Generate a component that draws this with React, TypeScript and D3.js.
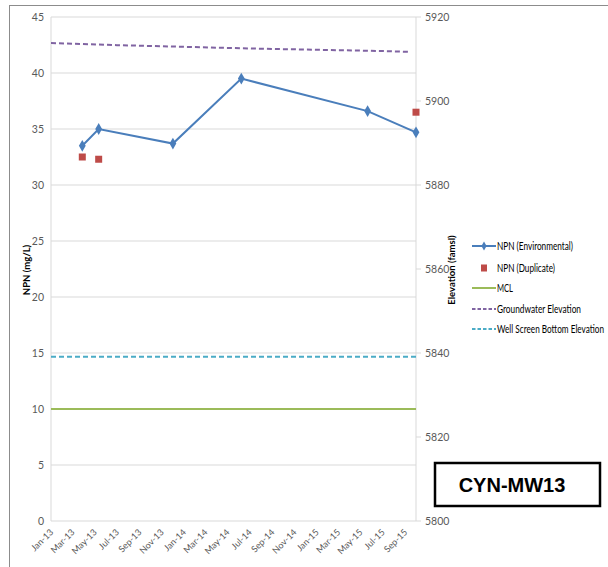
import React from 'react'
import * as d3 from 'd3'

// NPN (Environmental) samples, mg/L
const envDates = ['2013-03-28', '2013-05-12', '2013-12-02', '2014-06-08', '2015-05-21', '2015-10-01']
const envValues = [33.5, 35.0, 33.7, 39.5, 36.6, 34.7]

// NPN (Duplicate) samples, mg/L
const dupDates = ['2013-03-28', '2013-05-12', '2015-10-01']
const dupValues = [32.5, 32.3, 36.5]

// MCL, mg/L
const mclValue = 10

// Groundwater elevation, famsl (secondary axis)
const gwDates = ['2013-01-01', '2013-07-01', '2014-01-01', '2014-07-01', '2015-01-01', '2015-07-01', '2015-09-15']
const gwValues = [5913.8, 5913.3, 5912.9, 5912.5, 5912.2, 5911.9, 5911.7]

// Well screen bottom elevation, famsl
const screenBottom = 5839.1

const leftTicks = [0, 5, 10, 15, 20, 25, 30, 35, 40, 45]
const rightTicks = [5800, 5820, 5840, 5860, 5880, 5900, 5920]

const legendItems = [
  'NPN (Environmental)',
  'NPN (Duplicate)',
  'MCL',
  'Groundwater Elevation',
  'Well Screen Bottom Elevation',
]
const legendWidths = [76, 58, 16, 84, 107]

const parse = d3.timeParse('%Y-%m-%d')
const fmt = d3.timeFormat('%b-%y')

const C_ENV = '#4a7ebb'
const C_DUP = '#be4b48'
const C_MCL = '#9bbb59'
const C_GW = '#8064a2'
const C_WS = '#4bacc6'
const C_GRID = '#d9d9d9'
const C_TXT = '#595959'
const FONT = 'Lato, "Open Sans", sans-serif'

export default function App() {
  const width = 608
  const height = 567
  const left = 51
  const right = 416
  const top = 17
  const bottom = 521

  const start = parse('2013-01-01') as Date
  const end = parse('2015-10-01') as Date

  const x = d3.scaleTime().domain([start, end]).range([left, right])
  const y = d3.scaleLinear().domain([0, 45]).range([bottom, top])
  const y2 = d3.scaleLinear().domain([5800, 5920]).range([bottom, top])

  const xTicks = d3.timeMonth.every(2)!.range(start, parse('2015-09-02') as Date)

  const envPts = envDates.map((d, i) => [x(parse(d) as Date), y(envValues[i])] as [number, number])
  const dupPts = dupDates.map((d, i) => [x(parse(d) as Date), y(dupValues[i])] as [number, number])
  const gwPts = gwDates.map((d, i) => [x(parse(d) as Date), y2(gwValues[i])] as [number, number])

  const line = d3.line()
  const diamond = d3.symbol().type(d3.symbolDiamond).size(40)

  const legX = 472
  const legY = [246, 268, 288, 309, 329]

  return (
    <div style={{ position: 'absolute', left: 0, top: 0 }}>
      <svg width={width} height={height} style={{ display: 'block', background: '#fff' }}>
        {/* outer frame, cut off at right and bottom */}
        <rect x={9.5} y={5.5} width={640} height={600} fill="none" stroke="#8c8c8c" strokeWidth={1} />

        {/* gridlines */}
        {leftTicks.filter(t => t > 0).map(t => (
          <line key={t} x1={left} x2={right} y1={y(t)} y2={y(t)} stroke={C_GRID} strokeWidth={1} />
        ))}
        {/* axes */}
        <line x1={left} x2={left} y1={top} y2={bottom} stroke={C_GRID} />
        <line x1={left} x2={right} y1={bottom} y2={bottom} stroke={C_GRID} />
        <line x1={right} x2={right} y1={top} y2={bottom} stroke={C_GRID} />
        {rightTicks.map(t => (
          <line key={t} x1={right} x2={right + 5} y1={y2(t)} y2={y2(t)} stroke={C_GRID} />
        ))}

        {/* left tick labels */}
        {leftTicks.map(t => (
          <text key={t} x={44} y={y(t)} dy="0.35em" textAnchor="end" fontSize={10.5} fill={C_TXT} fontFamily={FONT}>
            {t}
          </text>
        ))}
        {/* right tick labels */}
        {rightTicks.map(t => (
          <text key={t} x={425} y={y2(t)} dy="0.35em" textAnchor="start" fontSize={10.5} fill={C_TXT} fontFamily={FONT}>
            {t}
          </text>
        ))}
        {/* x tick labels */}
        {xTicks.map(t => (
          <text
            key={t.getTime()}
            transform={`translate(${x(t) - 1},${bottom + 8}) rotate(-45)`}
            dy="0.6em"
            textAnchor="end"
            fontSize={9}
            fill={C_TXT}
            fontFamily={FONT}
          >
            {fmt(t)}
          </text>
        ))}

        {/* axis titles */}
        <text transform="translate(30,270) rotate(-90)" textAnchor="middle" fontSize={9.5} fontWeight="bold" fill="#000" fontFamily={FONT}>
          NPN (mg/L)
        </text>
        <text transform="translate(455,270) rotate(-90)" textAnchor="middle" fontSize={9.5} fontWeight="bold" fill="#000" fontFamily={FONT}>
          Elevation (famsl)
        </text>

        {/* series */}
        <line x1={left} x2={right} y1={y(mclValue)} y2={y(mclValue)} stroke={C_MCL} strokeWidth={2} />
        <line x1={left} x2={right} y1={y2(screenBottom)} y2={y2(screenBottom)} stroke={C_WS} strokeWidth={2} strokeDasharray="5,3" />
        <path d={line(gwPts) || ''} fill="none" stroke={C_GW} strokeWidth={2} strokeDasharray="5,3" />
        <path d={line(envPts) || ''} fill="none" stroke={C_ENV} strokeWidth={2} />
        {envPts.map((p, i) => (
          <path key={i} d={diamond() || ''} transform={`translate(${p[0]},${p[1]})`} fill={C_ENV} />
        ))}
        {dupPts.map((p, i) => (
          <rect key={i} x={p[0] - 3.5} y={p[1] - 3.5} width={7} height={7} fill={C_DUP} />
        ))}

        {/* legend */}
        {legendItems.map((name, i) => {
          const ly = legY[i]
          return (
            <g key={name}>
              {i === 0 && (
                <>
                  <line x1={legX} x2={legX + 24} y1={ly} y2={ly} stroke={C_ENV} strokeWidth={2} />
                  <path d={d3.symbol().type(d3.symbolDiamond).size(24)() || ''} transform={`translate(${legX + 12},${ly})`} fill={C_ENV} />
                </>
              )}
              {i === 1 && <rect x={legX + 9} y={ly - 3.5} width={6} height={7} fill={C_DUP} />}
              {i === 2 && <line x1={legX} x2={legX + 24} y1={ly} y2={ly} stroke={C_MCL} strokeWidth={2} />}
              {i === 3 && <line x1={legX} x2={legX + 24} y1={ly} y2={ly} stroke={C_GW} strokeWidth={2} strokeDasharray="3.5,2" />}
              {i === 4 && <line x1={legX} x2={legX + 24} y1={ly} y2={ly} stroke={C_WS} strokeWidth={2} strokeDasharray="3.5,2" />}
              <text
                x={legX + 25}
                y={ly}
                dy="0.35em"
                fontSize={10.5}
                fill="#000"
                fontFamily={FONT}
                textLength={legendWidths[i]}
                lengthAdjust="spacingAndGlyphs"
              >
                {name}
              </text>
            </g>
          )
        })}

        {/* well label box */}
        <rect x={435} y={463} width={165} height={43} fill="#fff" stroke="#000" strokeWidth={2.5} />
        <text x={512} y={492} textAnchor="middle" fontSize={20} fontWeight="bold" fill="#000" fontFamily="Liberation Sans, Arial, sans-serif">
          CYN-MW13
        </text>
      </svg>
    </div>
  )
}
